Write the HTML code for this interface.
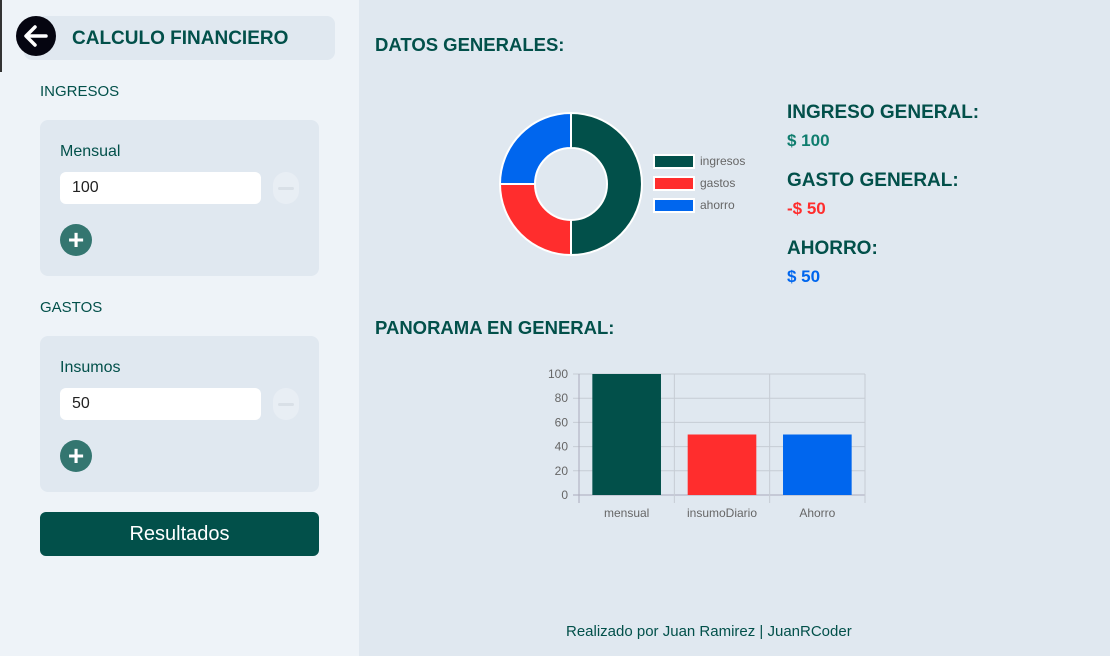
<!DOCTYPE html>
<html><head><meta charset="utf-8"><style>
*{box-sizing:border-box;margin:0;padding:0}
body{width:1110px;height:656px;position:relative;overflow:hidden;font-family:"Liberation Sans",sans-serif;background:#e0e8f0;color:#02504a}
.a{position:absolute}
.side{left:0;top:0;width:359px;height:656px;background:#eef3f8}
.h{font-weight:bold;color:#02504a}
.card{background:#e0e8f0;border-radius:8px;width:279px;height:156px;left:40px}
.inp{background:#fff;border-radius:6px;width:201px;height:32px;left:20px;font-size:16px;padding:7px 0 0 12px;color:#222}
.minus{width:26px;height:32px;left:233px;border-radius:13px;background:#e8eef4}
.minus::after{content:"";position:absolute;left:5px;top:15px;width:16px;height:3px;border-radius:2px;background:#d9e0e7}
.plus{width:32px;height:32px;border-radius:50%;background:#347670;left:20px;color:#fff;font-size:28px;font-weight:bold;text-align:center;line-height:31px}
.lbl{left:20px;font-size:16px;color:#02504a}
</style></head><body>
<div class="a side"></div>
<div class="a" style="left:0;top:0;width:2px;height:72px;background:#333"></div>
<div class="a" style="left:24px;top:16px;width:311px;height:44px;background:#e0e8f0;border-radius:8px"></div>
<div class="a" style="left:16px;top:16px;width:40px;height:40px;border-radius:50%;background:#050510">
<svg width="40" height="40"><path d="M30 20H11M19 11l-9 9 9 9" stroke="#fff" stroke-width="3.5" fill="none" stroke-linecap="round" stroke-linejoin="round"/></svg></div>
<div class="a h" style="left:72px;top:28px;font-size:19px">CALCULO FINANCIERO</div>
<div class="a" style="left:40px;top:83px;font-size:15px;color:#02504a">INGRESOS</div>
<div class="a card" style="top:120px">
<div class="a lbl" style="top:23px">Mensual</div>
<div class="a inp" style="top:52px">100</div>
<div class="a minus" style="top:52px"></div>
<div class="a plus" style="top:104px">+</div>
</div>
<div class="a" style="left:40px;top:299px;font-size:15px;color:#02504a">GASTOS</div>
<div class="a card" style="top:336px">
<div class="a lbl" style="top:23px">Insumos</div>
<div class="a inp" style="top:52px">50</div>
<div class="a minus" style="top:52px"></div>
<div class="a plus" style="top:104px">+</div>
</div>
<div class="a" style="left:40px;top:512px;width:279px;height:44px;background:#02504a;border-radius:6px;color:#fff;font-size:20px;text-align:center;line-height:44px">Resultados</div>

<div class="a h" style="left:375px;top:34px;font-size:18.5px">DATOS GENERALES:</div>
<div class="a h" style="left:375px;top:317px;font-size:18.5px">PANORAMA EN GENERAL:</div>
<div class="a h" style="left:787px;top:102px;font-size:19px">INGRESO GENERAL:</div>
<div class="a" style="left:787px;top:131px;font-size:17px;font-weight:bold;color:#0f7d6e">$ 100</div>
<div class="a h" style="left:787px;top:170px;font-size:19px">GASTO GENERAL:</div>
<div class="a" style="left:787px;top:199px;font-size:17px;font-weight:bold;color:#ff2d2d">-$ 50</div>
<div class="a h" style="left:787px;top:238px;font-size:19px">AHORRO:</div>
<div class="a" style="left:787px;top:267px;font-size:17px;font-weight:bold;color:#0066ee">$ 50</div>
<div class="a" style="left:566px;top:623px;font-size:15px;color:#02504a">Realizado por Juan Ramirez | JuanRCoder</div>

<svg class="a" id="donut" style="left:0;top:0" width="1110" height="656"></svg>
<svg class="a" id="bar" style="left:0;top:0" width="1110" height="656"></svg>
<script>
const donutLabels=["ingresos","gastos","ahorro"];
const donutValues=[100,50,50];
const barCategories=["mensual","insumoDiario","Ahorro"];
const barValues=[100,50,50];
const yTicks=[0,20,40,60,80,100];
const colors=["#02504a","#ff2d2d","#0066ee"];
const NS="http://www.w3.org/2000/svg";
function mk(p,t,at){const e=document.createElementNS(NS,t);for(const k in at)e.setAttribute(k,at[k]);p.appendChild(e);return e;}
const d=document.getElementById('donut');
const cx=571,cy=184,R=71,r=36;
const tot=donutValues.reduce((a,b)=>a+b,0);
let ang=-Math.PI/2;
donutValues.forEach((v,i)=>{
 const a2=ang+v/tot*2*Math.PI,lg=(a2-ang)>Math.PI?1:0;
 const p=(rad,a)=>[cx+rad*Math.cos(a),cy+rad*Math.sin(a)];
 const [x1,y1]=p(R,ang),[x2,y2]=p(R,a2),[x3,y3]=p(r,a2),[x4,y4]=p(r,ang);
 const s=mk(d,'path',{d:`M${x1} ${y1}A${R} ${R} 0 ${lg} 1 ${x2} ${y2}L${x3} ${y3}A${r} ${r} 0 ${lg} 0 ${x4} ${y4}Z`,fill:colors[i],stroke:'#fff','stroke-width':2});
 
 
 ang=a2;
 const ly=155+i*22;
 const b=mk(d,'rect',{x:654,y:ly,width:40,height:13,fill:colors[i],stroke:'#fff','stroke-width':2});
 
 
 const t=mk(d,'text',{x:700,y:ly+10,'font-size':12,fill:'#666','font-family':'Liberation Sans,sans-serif'});
 t.textContent=donutLabels[i];
 
 
});
const g=document.getElementById('bar');
const X0=579,X1=865,Y0=495,Y1=374,ymax=100;
const y=v=>Y0-(v/ymax)*(Y0-Y1);
const bw=(X1-X0)/barCategories.length;
yTicks.forEach(t=>{
 const l=mk(g,'line',{x1:X0-6,x2:X1,y1:y(t),y2:y(t),stroke:t===0?'#aab':'#c6ccd4','stroke-width':1});
 
 
 const tx=mk(g,'text',{x:X0-11,y:y(t)+4,'text-anchor':'end','font-size':12,fill:'#666','font-family':'Liberation Sans,sans-serif'});
 tx.textContent=t;
 
 
});
for(let i=0;i<=barCategories.length;i++){
 const l=mk(g,'line',{x1:X0+i*bw,x2:X0+i*bw,y1:Y1,y2:Y0+8,stroke:i===0?'#aab':'#c6ccd4'});
 
 
}
barCategories.forEach((c,i)=>{
 const w=bw*0.72,x=X0+i*bw+(bw-w)/2;
 const b=mk(g,'rect',{x:x,y:y(barValues[i]),width:w,height:Y0-y(barValues[i]),fill:colors[i]});
 
 
 const t=mk(g,'text',{x:X0+i*bw+bw/2,y:Y0+22,'text-anchor':'middle','font-size':12,fill:'#666','font-family':'Liberation Sans,sans-serif'});
 t.textContent=c;
 
 
});
</script>
</body></html>
